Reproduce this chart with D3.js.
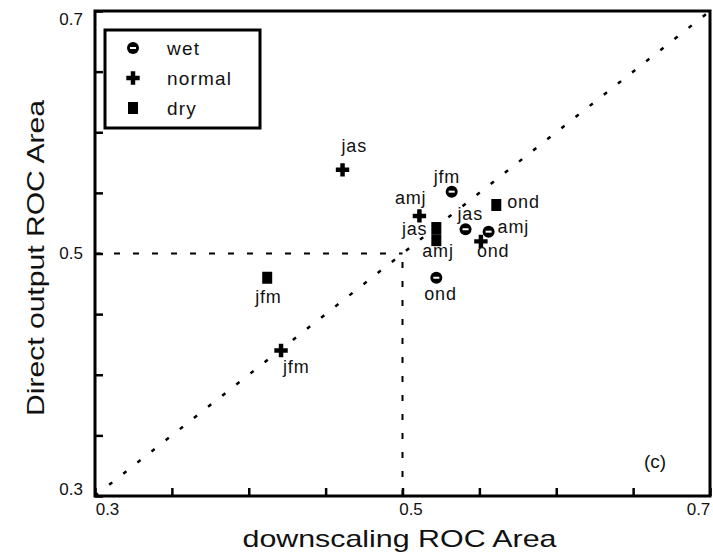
<!DOCTYPE html>
<html>
<head>
<meta charset="utf-8">
<script src="https://cdn.jsdelivr.net/npm/d3@7"></script>
<style>
  html, body { margin: 0; padding: 0; background: #fff; }
  svg text { font-family: "Liberation Sans", Arial, sans-serif; fill: #111; }
</style>
</head>
<body>
<div id="chart"></div>
<script>
// data
const categories = ["wet", "normal", "dry"];
const pointSeason = ["jfm", "jfm", "jfm", "amj", "amj", "amj", "jas", "jas", "jas", "ond", "ond", "ond"];
const pointCategory = ["wet", "dry", "normal", "normal", "dry", "wet", "normal", "dry", "wet", "dry", "normal", "wet"];
const downscalingRoc = [0.532, 0.412, 0.421, 0.511, 0.522, 0.556, 0.461, 0.522, 0.541, 0.561, 0.551, 0.522];
const directRoc = [0.551, 0.480, 0.420, 0.531, 0.511, 0.518, 0.569, 0.521, 0.520, 0.540, 0.510, 0.480];
const tickValues = [0.3, 0.35, 0.4, 0.45, 0.5, 0.55, 0.6, 0.65, 0.7];
const tickLabels = ["0.3", "0.5", "0.7"];

// label placement next to each marker (dx, dy, anchor)
const labelOffsets = [
  [-18, -9, "start"], [-12, 25, "start"], [2, 22, "start"],
  [7, -12, "end"], [-14, 17, "start"], [9, 1, "start"],
  [-1, -18, "start"], [-9, 7, "end"], [-8, -9, "start"],
  [11, 3, "start"], [-4, 16, "start"], [-12, 22, "start"]
];

const config = {
  width: 713,
  height: 558,
  plot: { left: 95, right: 710, top: 11, bottom: 496 },
};
const { width, height, plot } = config;

const points = pointSeason.map((s, i) => ({
  season: s,
  category: pointCategory[i],
  x: downscalingRoc[i],
  y: directRoc[i],
  off: labelOffsets[i],
}));

const svg = d3.select("#chart")
  .append("svg")
  .attr("width", width)
  .attr("height", height);

const xScale = d3.scaleLinear().domain([0.3, 0.7]).range([plot.left, plot.right]);
const yScale = d3.scaleLinear().domain([0.3, 0.7]).range([plot.bottom, plot.top]);

// reference lines
svg.append("line")
  .attr("x1", xScale(0.3)).attr("y1", yScale(0.5))
  .attr("x2", xScale(0.5)).attr("y2", yScale(0.5))
  .attr("stroke", "#000").attr("stroke-width", 2)
  .attr("stroke-dasharray", "6,13");

svg.append("line")
  .attr("x1", xScale(0.5)).attr("y1", yScale(0.3))
  .attr("x2", xScale(0.5)).attr("y2", yScale(0.5))
  .attr("stroke", "#000").attr("stroke-width", 2)
  .attr("stroke-dasharray", "6,13");

svg.append("line")
  .attr("x1", xScale(0.3)).attr("y1", yScale(0.3))
  .attr("x2", xScale(0.7)).attr("y2", yScale(0.7))
  .attr("stroke", "#000").attr("stroke-width", 2.5)
  .attr("stroke-dasharray", "4,14");

// axes with inward ticks, labels only at 0.3 / 0.5 / 0.7
const fmt = (d) => {
  const s = d3.format(".2f")(d);
  const short = d3.format(".1f")(d);
  return s.endsWith("0") && tickLabels.includes(short) ? short : "";
};

const xAxis = svg.append("g")
  .attr("transform", `translate(0, ${plot.bottom})`)
  .call(d3.axisBottom(xScale).tickValues(tickValues).tickSize(-8).tickPadding(7).tickFormat(fmt));

const yAxis = svg.append("g")
  .attr("transform", `translate(${plot.left}, 0)`)
  .call(d3.axisLeft(yScale).tickValues(tickValues).tickSize(-8).tickPadding(12).tickFormat(fmt));

[xAxis, yAxis].forEach((g) => {
  g.select(".domain").remove();
  g.selectAll(".tick line").attr("stroke", "#000").attr("stroke-width", 2.5);
  g.selectAll(".tick text")
    .style("font-family", "Liberation Sans, Arial, sans-serif")
    .style("font-size", "17px")
    .attr("fill", "#222");
});

xAxis.selectAll(".tick text")
  .attr("transform", (d) => (d === 0.7 ? "translate(-12,0)" : d === 0.3 ? "translate(12,0)" : "translate(8,0)"));
yAxis.selectAll(".tick text")
  .attr("transform", (d) => (d === 0.7 ? "translate(0,8)" : d === 0.3 ? "translate(0,-7)" : "translate(0,0)"));

// frame
svg.append("rect")
  .attr("x", plot.left).attr("y", plot.top)
  .attr("width", plot.right - plot.left)
  .attr("height", plot.bottom - plot.top)
  .attr("fill", "none").attr("stroke", "#000").attr("stroke-width", 3);

// axis titles
svg.append("text")
  .attr("x", (plot.left + plot.right) / 2 - 3)
  .attr("y", 547)
  .attr("text-anchor", "middle")
  .attr("textLength", 314)
  .attr("lengthAdjust", "spacingAndGlyphs")
  .style("font-size", "24px")
  .text("downscaling ROC Area");

svg.append("text")
  .attr("transform", `translate(44, 258) rotate(-90)`)
  .attr("text-anchor", "middle")
  .attr("textLength", 316)
  .attr("lengthAdjust", "spacingAndGlyphs")
  .style("font-size", "24px")
  .text("Direct output ROC Area");

// markers
function drawMarker(g, category) {
  if (category === "wet") {
    g.append("circle").attr("r", 6).attr("fill", "#000");
    g.append("rect").attr("x", -3).attr("y", -1).attr("width", 6).attr("height", 2).attr("fill", "#fff");
  } else if (category === "normal") {
    g.append("path").attr("d", d3.symbol().type(d3.symbolCross).size(100)()).attr("fill", "#000");
  } else {
    g.append("rect").attr("x", -5).attr("y", -6).attr("width", 10).attr("height", 12).attr("fill", "#000");
  }
}

const pointGroups = svg.selectAll(".pt")
  .data(points)
  .join("g")
  .attr("class", "pt")
  .attr("transform", (d) => `translate(${xScale(d.x)}, ${yScale(d.y)})`);

pointGroups.each(function (d) { drawMarker(d3.select(this), d.category); });

svg.selectAll(".pt-label")
  .data(points)
  .join("text")
  .attr("class", "pt-label")
  .attr("x", (d) => xScale(d.x) + d.off[0])
  .attr("y", (d) => yScale(d.y) + d.off[1])
  .attr("text-anchor", (d) => d.off[2])
  .style("font-size", "18px")
  .style("letter-spacing", "0.8px")
  .text((d) => d.season);

// legend
const legend = svg.append("g").attr("transform", "translate(105, 30)");
legend.append("rect")
  .attr("width", 155).attr("height", 98)
  .attr("fill", "#fff").attr("stroke", "#000").attr("stroke-width", 3);

const legendRows = legend.selectAll(".leg")
  .data(categories)
  .join("g")
  .attr("class", "leg")
  .attr("transform", (d, i) => `translate(28, ${18 + i * 30})`);

legendRows.each(function (d) { drawMarker(d3.select(this), d); });
legendRows.append("text")
  .attr("x", 34).attr("y", 7)
  .style("font-size", "19px")
  .style("letter-spacing", "1.2px")
  .text((d) => d);

// panel tag
svg.append("text")
  .attr("x", 655).attr("y", 468)
  .attr("text-anchor", "middle")
  .style("font-size", "19px")
  .text("(c)");
</script>
</body>
</html>
